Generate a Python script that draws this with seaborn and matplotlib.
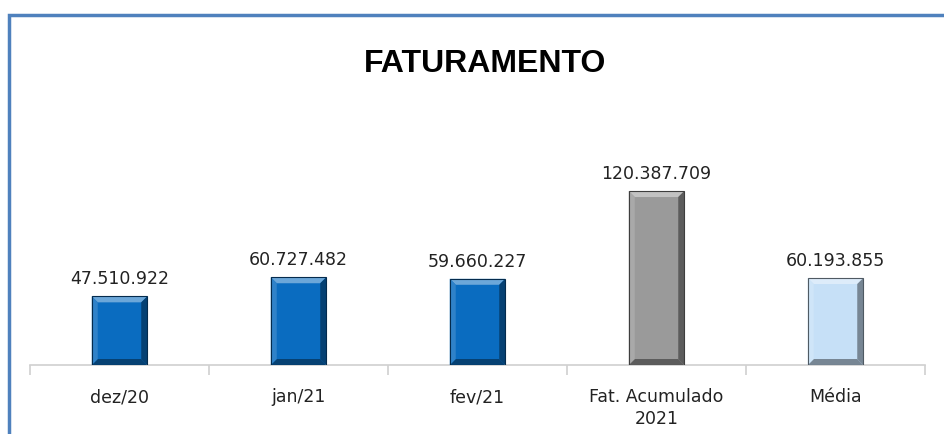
import matplotlib
matplotlib.use("Agg")
import matplotlib.pyplot as plt
import seaborn as sns
import pandas as pd
from matplotlib.patches import Polygon, Rectangle
import matplotlib.colors as mcolors

categories = ["dez/20", "jan/21", "fev/21", "Fat. Acumulado\n2021", "Média"]
values = [47510922, 60727482, 59660227, 120387709, 60193855]
labels = ["47.510.922", "60.727.482", "59.660.227", "120.387.709", "60.193.855"]
colors = ["#0A6CC0", "#0A6CC0", "#0A6CC0", "#9A9A9A", "#C6E0F7"]

sns.set_theme(style="white")
plt.rcParams['font.family'] = ['DejaVu Sans']

df = pd.DataFrame({"cat": categories, "val": values})

W, H = 945, 435
fig = plt.figure(figsize=(W/100, H/100), dpi=100)
ax = fig.add_axes([30/W, 1-366/H, 895/W, 266/H])

sns.barplot(data=df, x="cat", y="val", hue="cat", palette=colors, legend=False,
            width=0.31, ax=ax, saturation=1, edgecolor="none")

ymax = 266/1.445*1e6
ax.set_ylim(0, ymax)
ax.set_xlim(-0.5, 4.5)

# bevel effect
dx = 6/179.0
dy = 6/266.0*ymax
for p, c in zip(ax.patches, colors):
    x0, y0 = p.get_x(), p.get_y()
    w, h = p.get_width(), p.get_height()
    x1, y1 = x0+w, y0+h
    base = mcolors.to_rgb(c)
    light = tuple(min(1, v*0.6+0.4) for v in base)
    midl = tuple(min(1, v*0.85+0.15) for v in base)
    dark = tuple(v*0.4 for v in base)
    midd = tuple(v*0.6 for v in base)
    ax.add_patch(Polygon([(x0, y1), (x1, y1), (x1-dx, y1-dy), (x0+dx, y1-dy)], color=light, lw=0, zorder=3))
    ax.add_patch(Polygon([(x0, y0), (x1, y0), (x1-dx, y0+dy), (x0+dx, y0+dy)], color=midd, lw=0, zorder=3))
    ax.add_patch(Polygon([(x0, y0), (x0, y1), (x0+dx, y1-dy), (x0+dx, y0+dy)], color=midl, lw=0, zorder=3))
    ax.add_patch(Polygon([(x1, y0), (x1, y1), (x1-dx, y1-dy), (x1-dx, y0+dy)], color=midd, lw=0, zorder=3))
    ax.add_patch(Rectangle((x0, y0), w, h, fill=False, ec=dark, lw=0.8, zorder=4))

for i, (v, l) in enumerate(zip(values, labels)):
    ax.text(i, v + 9/266*ymax, l, ha="center", va="bottom", fontsize=12.5, color="#222222")

for s in ["top", "right", "left"]:
    ax.spines[s].set_visible(False)
ax.spines["bottom"].set_color("#D0D0D0")
ax.spines["bottom"].set_linewidth(1.2)
ax.set_yticks([])
ax.set_xticks([i for i in range(len(categories))])
ax.set_xticklabels(categories, fontsize=12.5, color="#222222", linespacing=1.3)
ax.tick_params(axis="x", length=0, pad=16)
ax.set_xticks([i-0.5 for i in range(len(categories)+1)], minor=True)
ax.tick_params(axis="x", which="minor", length=7, color="#D0D0D0", width=1.2, direction="out")
ax.xaxis.set_ticks_position("bottom")
ax.set_xlabel("")
ax.set_ylabel("")

fig.text(485/W, 1-64/H, "FATURAMENTO", ha="center", va="center", fontsize=23,
         fontweight="bold", family=["Liberation Sans", "DejaVu Sans"], color="black")

# frame
fig.patches.append(Rectangle((9/W, -0.2), 1.2, 1-16/H+0.2, transform=fig.transFigure,
                             fill=False, ec="#4F81BD", lw=2.5, zorder=0))

fig.savefig("out.png", dpi=100)
